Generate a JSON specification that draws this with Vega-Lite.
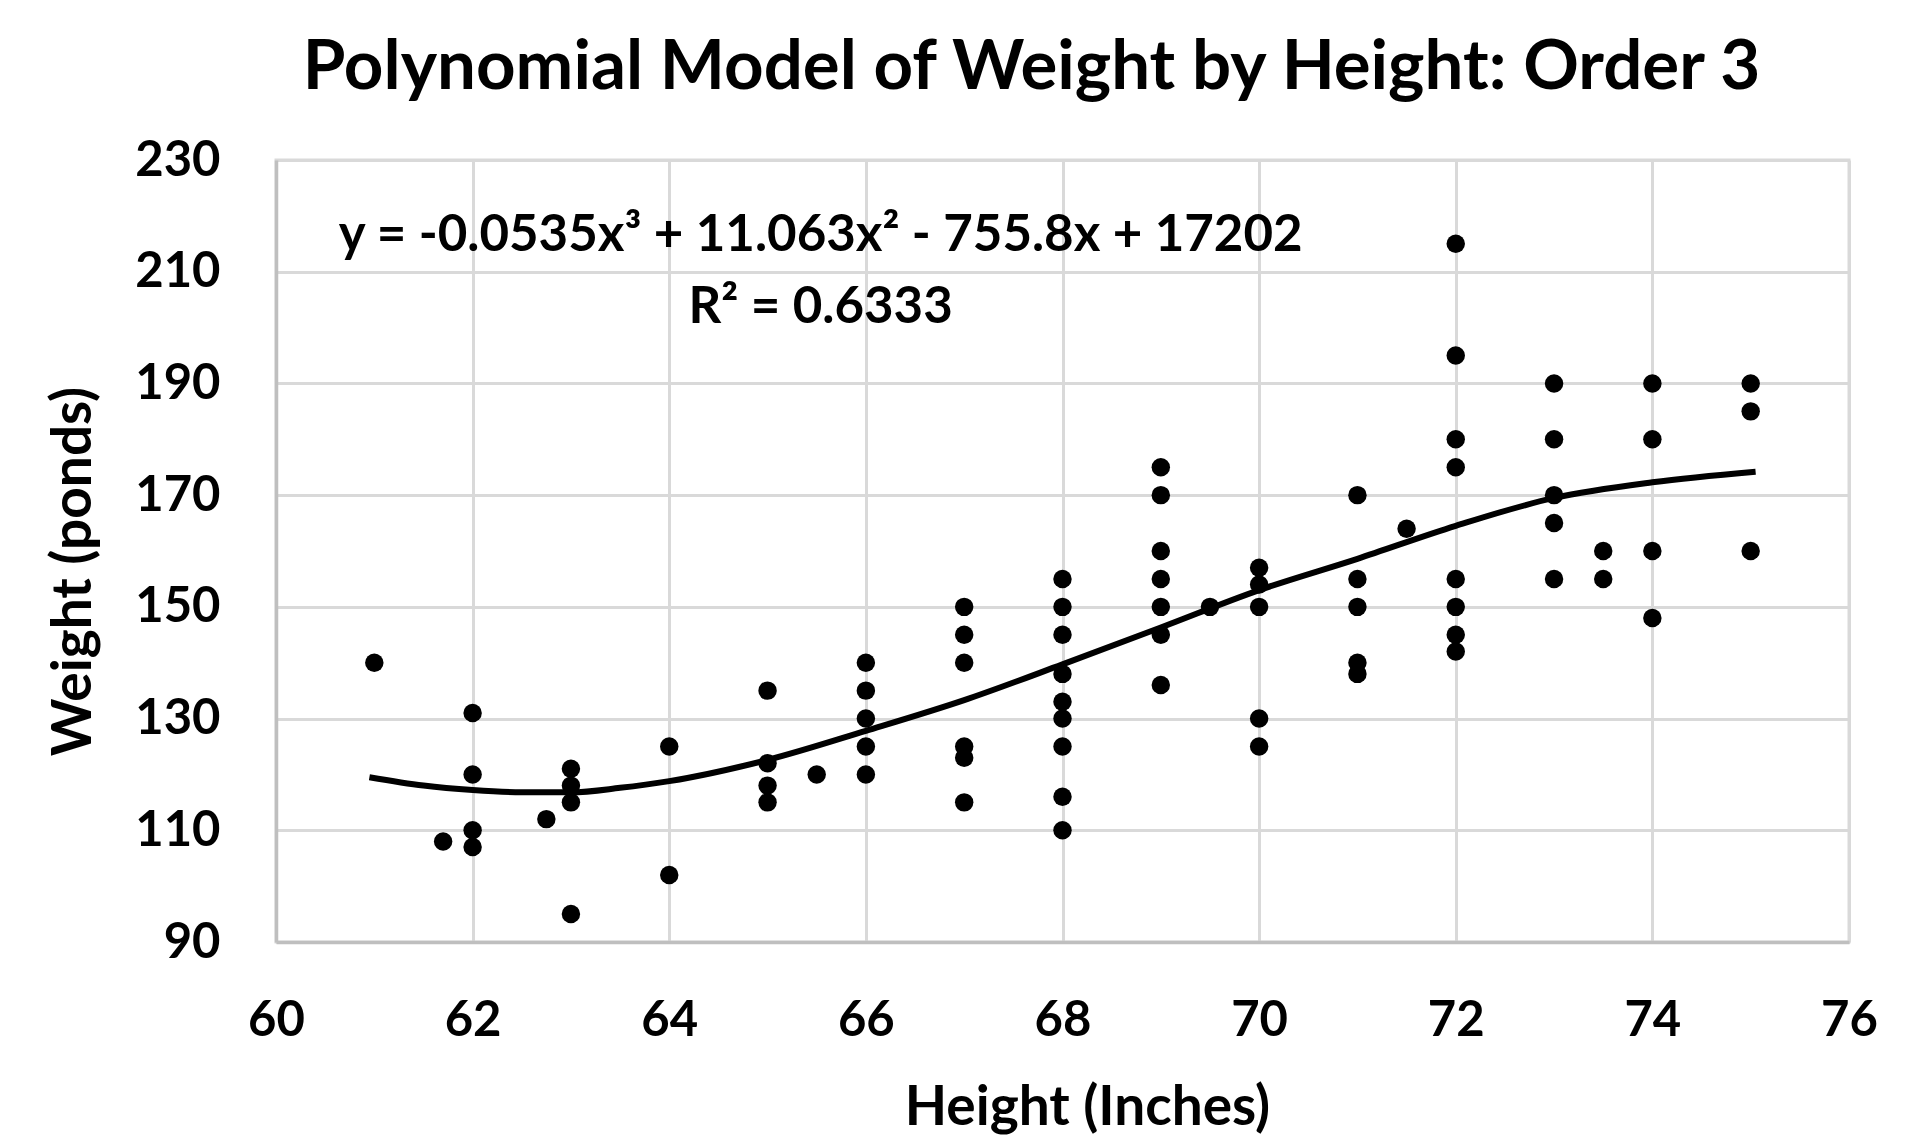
{
  "$schema": "https://vega.github.io/schema/vega-lite/v6.json",
  "width": 1573,
  "height": 782,
  "autosize": {"type": "none"},
  "padding": {"left": 276, "top": 160, "right": 66, "bottom": 197},
  "background": "white",
  "title": {
    "text": "Polynomial Model of Weight by Height: Order 3",
    "font": "Lato",
    "fontSize": 69,
    "fontWeight": "bold",
    "color": "black",
    "anchor": "middle",
    "frame": "group",
    "baseline": "alphabetic",
    "offset": -22,
    "dx": -31
  },
  "datasets": {
    "points": [
      {"Height": 61, "Weight": 140},
      {"Height": 61.7, "Weight": 108},
      {"Height": 62, "Weight": 131},
      {"Height": 62, "Weight": 120},
      {"Height": 62, "Weight": 110},
      {"Height": 62, "Weight": 107},
      {"Height": 62.75, "Weight": 112},
      {"Height": 63, "Weight": 121},
      {"Height": 63, "Weight": 118},
      {"Height": 63, "Weight": 115},
      {"Height": 63, "Weight": 95},
      {"Height": 64, "Weight": 125},
      {"Height": 64, "Weight": 102},
      {"Height": 65, "Weight": 135},
      {"Height": 65, "Weight": 122},
      {"Height": 65, "Weight": 118},
      {"Height": 65, "Weight": 115},
      {"Height": 65.5, "Weight": 120},
      {"Height": 66, "Weight": 140},
      {"Height": 66, "Weight": 135},
      {"Height": 66, "Weight": 130},
      {"Height": 66, "Weight": 125},
      {"Height": 66, "Weight": 120},
      {"Height": 67, "Weight": 150},
      {"Height": 67, "Weight": 145},
      {"Height": 67, "Weight": 140},
      {"Height": 67, "Weight": 125},
      {"Height": 67, "Weight": 123},
      {"Height": 67, "Weight": 115},
      {"Height": 68, "Weight": 155},
      {"Height": 68, "Weight": 150},
      {"Height": 68, "Weight": 145},
      {"Height": 68, "Weight": 138},
      {"Height": 68, "Weight": 133},
      {"Height": 68, "Weight": 130},
      {"Height": 68, "Weight": 125},
      {"Height": 68, "Weight": 116},
      {"Height": 68, "Weight": 110},
      {"Height": 69, "Weight": 175},
      {"Height": 69, "Weight": 170},
      {"Height": 69, "Weight": 160},
      {"Height": 69, "Weight": 155},
      {"Height": 69, "Weight": 150},
      {"Height": 69, "Weight": 145},
      {"Height": 69, "Weight": 136},
      {"Height": 69.5, "Weight": 150},
      {"Height": 70, "Weight": 157},
      {"Height": 70, "Weight": 154},
      {"Height": 70, "Weight": 150},
      {"Height": 70, "Weight": 130},
      {"Height": 70, "Weight": 125},
      {"Height": 71, "Weight": 170},
      {"Height": 71, "Weight": 155},
      {"Height": 71, "Weight": 150},
      {"Height": 71, "Weight": 140},
      {"Height": 71, "Weight": 138},
      {"Height": 71.5, "Weight": 164},
      {"Height": 72, "Weight": 215},
      {"Height": 72, "Weight": 195},
      {"Height": 72, "Weight": 180},
      {"Height": 72, "Weight": 175},
      {"Height": 72, "Weight": 155},
      {"Height": 72, "Weight": 150},
      {"Height": 72, "Weight": 145},
      {"Height": 72, "Weight": 142},
      {"Height": 73, "Weight": 190},
      {"Height": 73, "Weight": 180},
      {"Height": 73, "Weight": 170},
      {"Height": 73, "Weight": 165},
      {"Height": 73, "Weight": 155},
      {"Height": 73.5, "Weight": 160},
      {"Height": 73.5, "Weight": 155},
      {"Height": 74, "Weight": 190},
      {"Height": 74, "Weight": 180},
      {"Height": 74, "Weight": 160},
      {"Height": 74, "Weight": 148},
      {"Height": 75, "Weight": 190},
      {"Height": 75, "Weight": 185},
      {"Height": 75, "Weight": 160}
    ],
    "trend": [
      {"Height": 60.95, "Weight": 119.5},
      {"Height": 61.5, "Weight": 118.0},
      {"Height": 62, "Weight": 117.2},
      {"Height": 62.5, "Weight": 116.8},
      {"Height": 63, "Weight": 116.8},
      {"Height": 63.5, "Weight": 117.6},
      {"Height": 64, "Weight": 118.8},
      {"Height": 65, "Weight": 122.6},
      {"Height": 66, "Weight": 127.8},
      {"Height": 67, "Weight": 133.3},
      {"Height": 68, "Weight": 139.7},
      {"Height": 69, "Weight": 146.3},
      {"Height": 70, "Weight": 153.0},
      {"Height": 71, "Weight": 158.6},
      {"Height": 72, "Weight": 164.5},
      {"Height": 73, "Weight": 169.5},
      {"Height": 74, "Weight": 172.3},
      {"Height": 75.05, "Weight": 174.2}
    ],
    "labels": [
      {"Height": 65.54, "Weight": 216.4, "label": "y = -0.0535x³ + 11.063x² - 755.8x + 17202"},
      {"Height": 65.54, "Weight": 203.5, "label": "R² = 0.6333"}
    ]
  },
  "layer": [
    {
      "data": {"name": "points"},
      "mark": {"type": "circle", "size": 340, "color": "black", "opacity": 1},
      "encoding": {
        "x": {
          "field": "Height",
          "type": "quantitative",
          "scale": {"domain": [60, 76], "nice": false, "zero": false},
          "axis": {
            "values": [60, 62, 64, 66, 68, 70, 72, 74, 76],
            "format": "d",
            "labelFlush": false,
            "title": "Height (Inches)",
            "labelPadding": 54,
            "titlePadding": 36,
            "titleX": 811,
            "titleAlign": "center"
          }
        },
        "y": {
          "field": "Weight",
          "type": "quantitative",
          "scale": {"domain": [90, 230], "nice": false, "zero": false},
          "axis": {
            "values": [90, 110, 130, 150, 170, 190, 210, 230],
            "format": "d",
            "labelFlush": false,
            "title": "Weight (ponds)",
            "labelPadding": 56,
            "titlePadding": 32,
            "titleY": 411,
            "titleAlign": "center"
          }
        }
      }
    },
    {
      "data": {"name": "trend"},
      "mark": {"type": "line", "color": "black", "strokeWidth": 6, "interpolate": "monotone"},
      "encoding": {
        "x": {"field": "Height", "type": "quantitative"},
        "y": {"field": "Weight", "type": "quantitative"}
      }
    },
    {
      "data": {"name": "labels"},
      "mark": {"type": "text", "font": "Lato", "fontSize": 51, "fontWeight": "bold", "color": "black", "align": "center", "baseline": "middle"},
      "encoding": {
        "x": {"field": "Height", "type": "quantitative"},
        "y": {"field": "Weight", "type": "quantitative"},
        "text": {"field": "label", "type": "nominal"}
      }
    }
  ],
  "config": {
    "view": {"stroke": "#d9d9d9", "strokeWidth": 3},
    "axis": {
      "grid": true,
      "gridColor": "#d9d9d9",
      "gridWidth": 3,
      "ticks": false,
      "domain": true,
      "domainColor": "#bfbfbf",
      "domainWidth": 3.5,
      "labelFont": "Lato",
      "labelFontSize": 49,
      "labelFontWeight": "bold",
      "labelColor": "black",
      "titleFont": "Lato",
      "titleFontSize": 55,
      "titleFontWeight": "bold",
      "titleColor": "black"
    }
  }
}
